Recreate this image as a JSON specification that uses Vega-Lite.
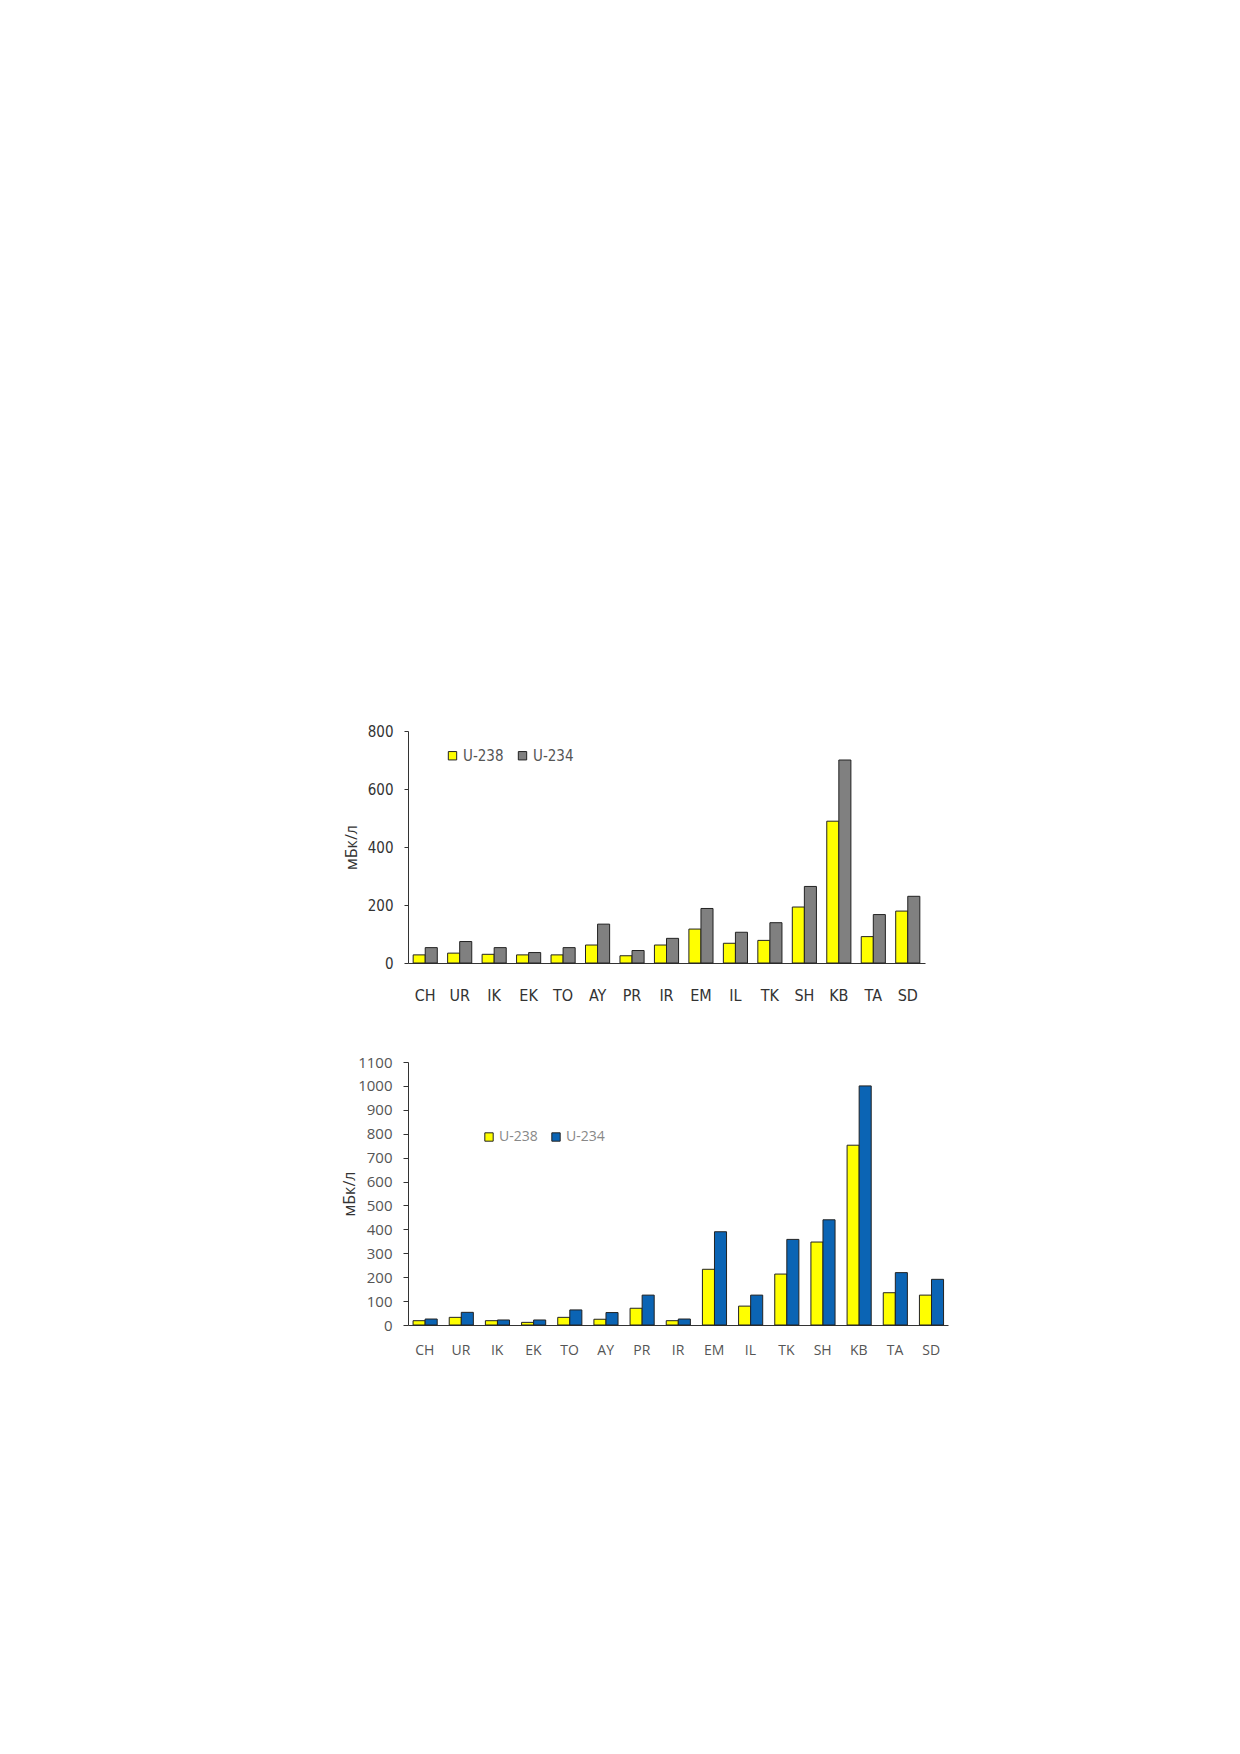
{
  "$schema": "https://vega.github.io/schema/vega-lite/v6.json",
  "background": "white",
  "padding": {"left": 341, "top": 724, "right": 10, "bottom": 10},
  "spacing": 52,
  "datasets": {
    "top": [
      {"site": "CH", "isotope": "U-238", "value": 28}, {"site": "CH", "isotope": "U-234", "value": 53},
      {"site": "UR", "isotope": "U-238", "value": 34}, {"site": "UR", "isotope": "U-234", "value": 74},
      {"site": "IK", "isotope": "U-238", "value": 30}, {"site": "IK", "isotope": "U-234", "value": 53},
      {"site": "EK", "isotope": "U-238", "value": 28}, {"site": "EK", "isotope": "U-234", "value": 36},
      {"site": "TO", "isotope": "U-238", "value": 28}, {"site": "TO", "isotope": "U-234", "value": 53},
      {"site": "AY", "isotope": "U-238", "value": 62}, {"site": "AY", "isotope": "U-234", "value": 134},
      {"site": "PR", "isotope": "U-238", "value": 25}, {"site": "PR", "isotope": "U-234", "value": 43},
      {"site": "IR", "isotope": "U-238", "value": 62}, {"site": "IR", "isotope": "U-234", "value": 85},
      {"site": "EM", "isotope": "U-238", "value": 117}, {"site": "EM", "isotope": "U-234", "value": 188},
      {"site": "IL", "isotope": "U-238", "value": 68}, {"site": "IL", "isotope": "U-234", "value": 106},
      {"site": "TK", "isotope": "U-238", "value": 78}, {"site": "TK", "isotope": "U-234", "value": 139},
      {"site": "SH", "isotope": "U-238", "value": 193}, {"site": "SH", "isotope": "U-234", "value": 264},
      {"site": "KB", "isotope": "U-238", "value": 489}, {"site": "KB", "isotope": "U-234", "value": 700},
      {"site": "TA", "isotope": "U-238", "value": 91}, {"site": "TA", "isotope": "U-234", "value": 167},
      {"site": "SD", "isotope": "U-238", "value": 179}, {"site": "SD", "isotope": "U-234", "value": 230}
    ],
    "bottom": [
      {"site": "CH", "isotope": "U-238", "value": 18}, {"site": "CH", "isotope": "U-234", "value": 25},
      {"site": "UR", "isotope": "U-238", "value": 32}, {"site": "UR", "isotope": "U-234", "value": 53},
      {"site": "IK", "isotope": "U-238", "value": 18}, {"site": "IK", "isotope": "U-234", "value": 21},
      {"site": "EK", "isotope": "U-238", "value": 11}, {"site": "EK", "isotope": "U-234", "value": 21},
      {"site": "TO", "isotope": "U-238", "value": 32}, {"site": "TO", "isotope": "U-234", "value": 63},
      {"site": "AY", "isotope": "U-238", "value": 24}, {"site": "AY", "isotope": "U-234", "value": 52},
      {"site": "PR", "isotope": "U-238", "value": 70}, {"site": "PR", "isotope": "U-234", "value": 125},
      {"site": "IR", "isotope": "U-238", "value": 18}, {"site": "IR", "isotope": "U-234", "value": 25},
      {"site": "EM", "isotope": "U-238", "value": 233}, {"site": "EM", "isotope": "U-234", "value": 390},
      {"site": "IL", "isotope": "U-238", "value": 79}, {"site": "IL", "isotope": "U-234", "value": 125},
      {"site": "TK", "isotope": "U-238", "value": 213}, {"site": "TK", "isotope": "U-234", "value": 358},
      {"site": "SH", "isotope": "U-238", "value": 347}, {"site": "SH", "isotope": "U-234", "value": 440},
      {"site": "KB", "isotope": "U-238", "value": 752}, {"site": "KB", "isotope": "U-234", "value": 1000},
      {"site": "TA", "isotope": "U-238", "value": 135}, {"site": "TA", "isotope": "U-234", "value": 219},
      {"site": "SD", "isotope": "U-238", "value": 125}, {"site": "SD", "isotope": "U-234", "value": 191}
    ]
  },
  "vconcat": [
    {
      "width": 517,
      "height": 232,
      "data": {"name": "top"},
      "mark": {"type": "bar", "stroke": "#222222", "strokeWidth": 1},
      "encoding": {
        "x": {
          "field": "site",
          "type": "nominal",
          "sort": null,
          "scale": {"paddingInner": 0.3, "paddingOuter": 0.15},
          "axis": {"title": null, "labelAngle": 0, "labelPadding": 24, "ticks": false, "labelFont": "DejaVu Sans Condensed", "labelFontSize": 16, "labelColor": "#333333"}
        },
        "xOffset": {"field": "isotope", "type": "nominal", "sort": ["U-238", "U-234"]},
        "y": {
          "field": "value",
          "type": "quantitative",
          "scale": {"domain": [0, 800]},
          "axis": {"title": "мБк/л", "values": [0, 200, 400, 600, 800], "format": "d", "labelFont": "DejaVu Sans Condensed", "labelFontSize": 15, "labelColor": "#333333", "titleFontSize": 16, "tickSize": 4, "labelPadding": 11, "minExtent": 41, "maxExtent": 41, "titlePadding": 8}
        },
        "color": {
          "field": "isotope",
          "type": "nominal",
          "sort": ["U-238", "U-234"],
          "scale": {"domain": ["U-238", "U-234"], "range": ["#ffff00", "#808080"]},
          "legend": {"title": null, "orient": "none", "legendX": 37, "legendY": 17, "direction": "horizontal", "labelColor": "#555555", "labelFont": "DejaVu Sans Condensed", "labelFontSize": 15, "columnPadding": 11}
        }
      }
    },
    {
      "width": 540,
      "height": 263,
      "data": {"name": "bottom"},
      "mark": {"type": "bar", "stroke": "#222222", "strokeWidth": 1},
      "encoding": {
        "x": {
          "field": "site",
          "type": "nominal",
          "sort": null,
          "scale": {"paddingInner": 0.35, "paddingOuter": 0.14},
          "axis": {"title": null, "labelAngle": 0, "labelPadding": 18, "ticks": false, "labelFontSize": 14, "labelColor": "#555555"}
        },
        "xOffset": {"field": "isotope", "type": "nominal", "sort": ["U-238", "U-234"]},
        "y": {
          "field": "value",
          "type": "quantitative",
          "scale": {"domain": [0, 1100]},
          "axis": {"title": "мБк/л", "values": [0, 100, 200, 300, 400, 500, 600, 700, 800, 900, 1000, 1100], "format": "d", "labelFontSize": 15, "labelColor": "#555555", "titleFontSize": 16, "tickSize": 5, "labelPadding": 11, "minExtent": 50, "maxExtent": 50, "titlePadding": 1}
        },
        "color": {
          "field": "isotope",
          "type": "nominal",
          "sort": ["U-238", "U-234"],
          "scale": {"domain": ["U-238", "U-234"], "range": ["#ffff00", "#0b64b4"]},
          "legend": {"title": null, "orient": "none", "legendX": 74, "legendY": 68, "direction": "horizontal", "labelColor": "#888888", "labelFontSize": 14, "columnPadding": 11}
        }
      }
    }
  ],
  "resolve": {"scale": {"color": "independent", "y": "independent", "x": "independent"}, "legend": {"color": "independent"}},
  "config": {
    "font": "Open Sans",
    "view": {"stroke": null},
    "axis": {"grid": false, "domainColor": "#333333", "tickColor": "#333333", "labelFont": "Open Sans", "titleFont": "Open Sans"},
    "axisY": {"titleFontWeight": "normal", "titleColor": "#333333"},
    "legend": {"padding": 0, "symbolType": "square", "symbolSize": 70, "symbolStrokeColor": "#222222", "symbolStrokeWidth": 1, "labelOffset": 3, "labelFont": "Open Sans"}
  }
}
